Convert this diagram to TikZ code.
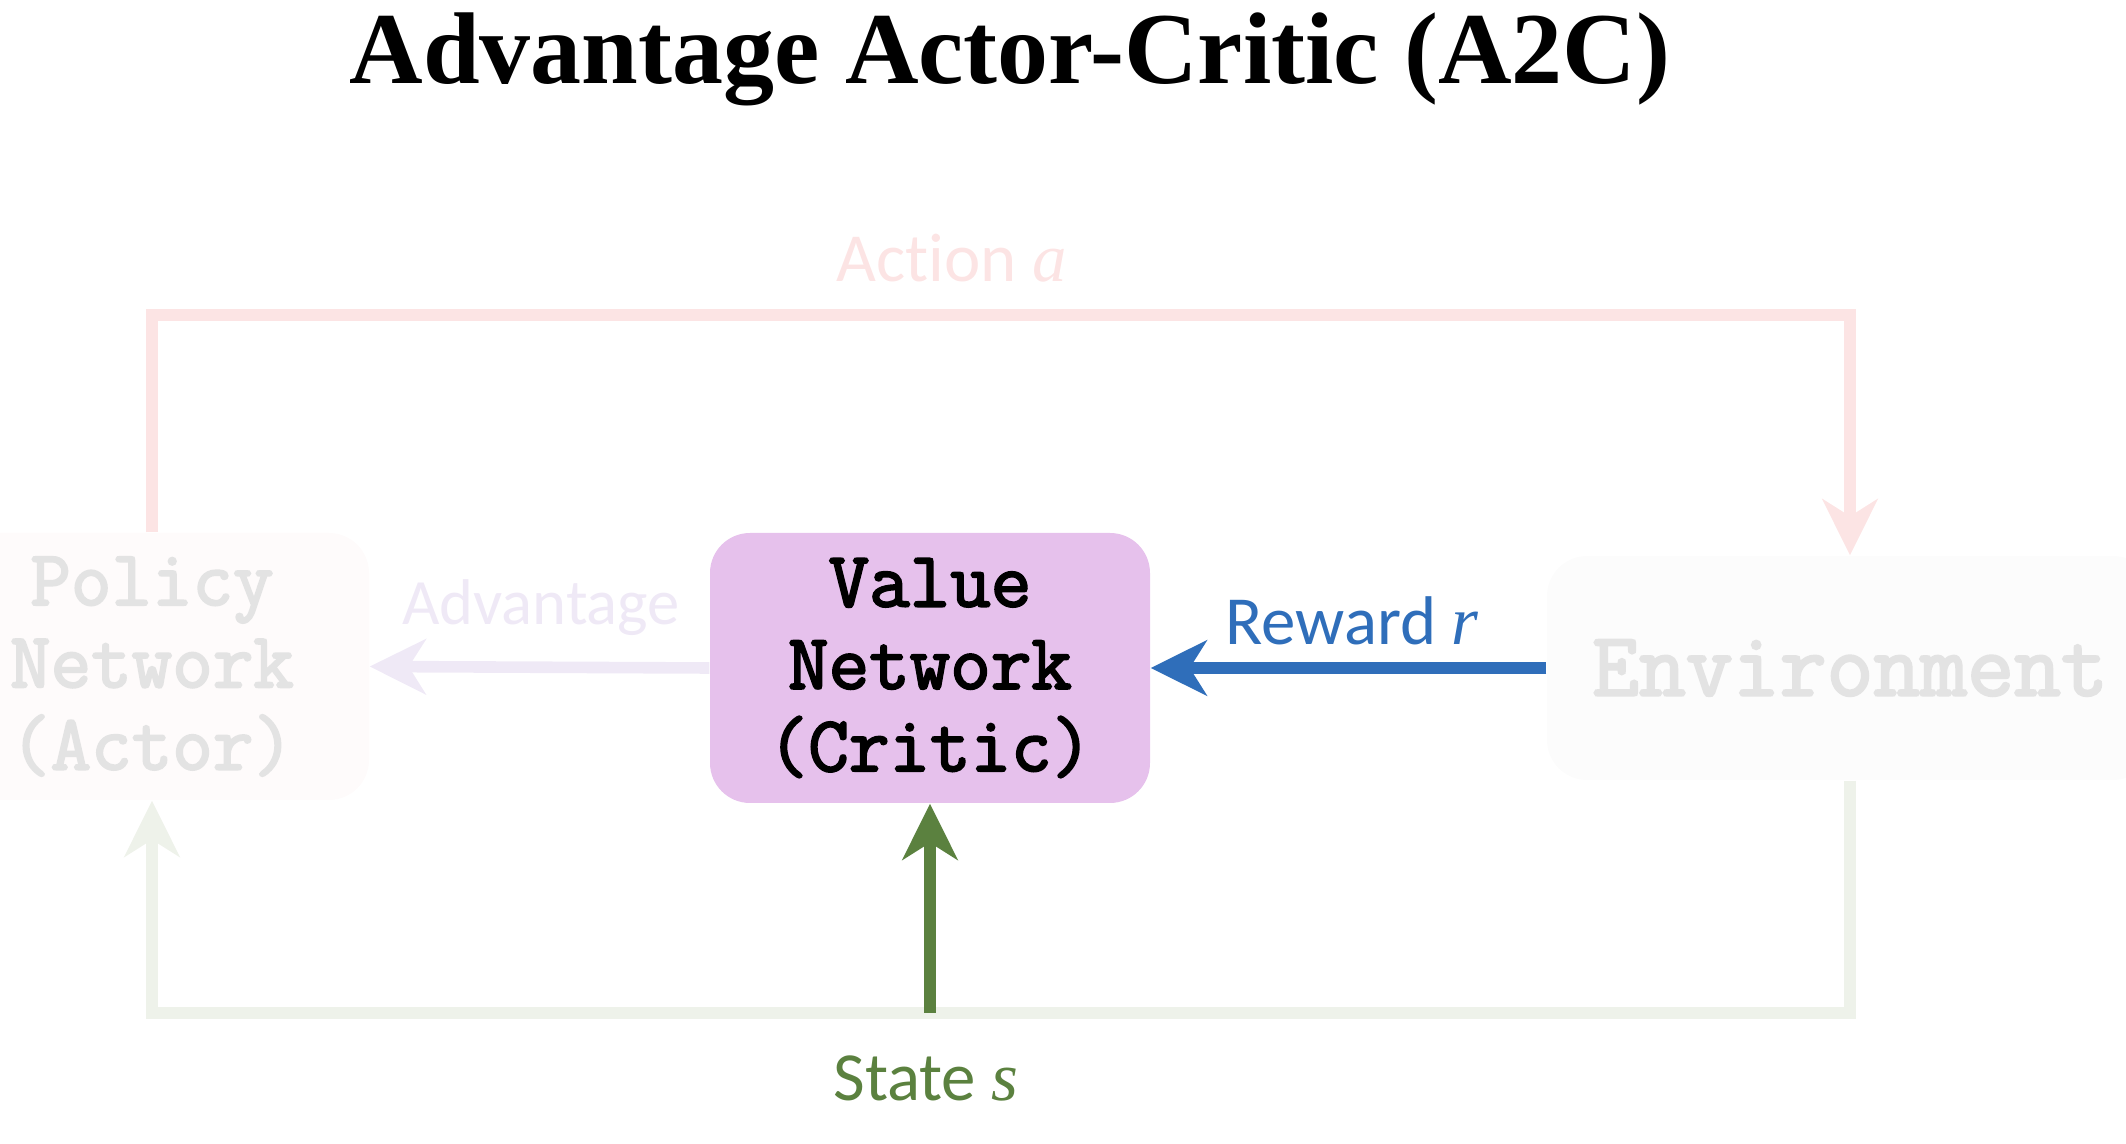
\documentclass[tikz,border=0pt]{standalone}
\usepackage{fontspec}
\setmainfont{Liberation Serif}
\newfontfamily\labelfont[Ligatures=NoCommon]{Carlito}
\newfontfamily\netfont[FakeBold=2.6]{Latin Modern Mono}
\usepackage{xcolor}
\usepackage{tikz}
\usetikzlibrary{arrows.meta,positioning}
\definecolor{actpink}{HTML}{FCE4E4}
\definecolor{advlav}{HTML}{EFE9F6}
\definecolor{rewblue}{HTML}{2F6EBA}
\definecolor{stategreen}{HTML}{5B813F}
\definecolor{statefade}{HTML}{EEF2EA}
\definecolor{valfill}{HTML}{E6C1EC}
\definecolor{polfill}{HTML}{FEFBFB}
\definecolor{envfill}{HTML}{FCFCFC}
\definecolor{fadetext}{HTML}{E3E3E3}
\begin{document}
\begin{tikzpicture}[
  net/.style={rounded corners=0.4cm,align=center,inner sep=0pt,
              font=\netfont\bfseries\fontsize{22.4}{23.4}\selectfont},
  lbl/.style={font=\labelfont\fontsize{19.6}{22}\selectfont},
  link/.style={line width=3.3pt,-{Stealth[length=5.6mm,width=5.5mm,inset=1.7mm]}}]
  \useasboundingbox (0,0) rectangle (21.26,-11.44);
  \clip (0,0) rectangle (21.26,-11.44);
  % title
  \node[font=\bfseries\fontsize{29}{34}\selectfont,anchor=base] (title) at (10.10,-0.84)
       {Advantage Actor-Critic (A2C)};
  % networks and environment
  \node[net,fill=polfill,text=fadetext,minimum width=4.34cm,minimum height=2.67cm]
       (policy) at (1.52,-6.665) {Policy\\Network\\(Actor)};
  \node[net,fill=valfill,minimum width=4.40cm,minimum height=2.70cm]
       (value) at (9.30,-6.68) {Value\\Network\\(Critic)};
  \node[net,fill=envfill,text=fadetext,minimum width=6.06cm,minimum height=2.24cm,
        font=\netfont\bfseries\fontsize{25.9}{28}\selectfont]
       (env) at (18.50,-6.68) {Environment};
  % loop lines
  \coordinate (atop) at (0,-3.15);
  \coordinate (sbot) at (0,-10.13);
  \draw[link,actpink] (policy.north) -- (policy.north |- atop) -- (env.north |- atop) -- (env.north);
  \draw[link,statefade] (env.south) -- (env.south |- sbot) -- (policy.south |- sbot) -- (policy.south);
  \draw[link,stategreen] (value.south |- sbot) -- (value.south);
  \draw[link,advlav] (value.west) -- (policy.east);
  \draw[link,rewblue] (env.west) -- (value.east);
  % labels
  \node[lbl,text=actpink] (act) at (9.52,-2.58) {Action {\rmfamily\itshape a}};
  \node[lbl,text=advlav,font=\labelfont\fontsize{18.4}{22}\selectfont] (adv) at (5.41,-6.08) {Advantage};
  \node[lbl,text=rewblue] (rew) at (13.52,-6.21) {Reward {\rmfamily\itshape r}};
  \node[lbl,text=stategreen] (st) at (9.26,-10.78) {State {\rmfamily\itshape s}};
\end{tikzpicture}
\end{document}
